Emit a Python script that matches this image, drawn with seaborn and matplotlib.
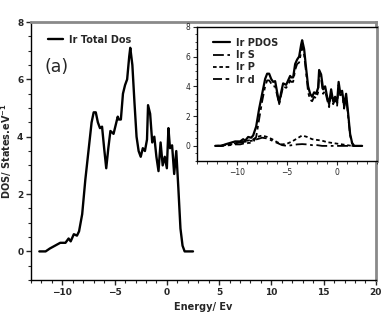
import numpy as np
import pandas as pd
import matplotlib
matplotlib.use("Agg")
import matplotlib.pyplot as plt
from matplotlib.ticker import MultipleLocator
from matplotlib.lines import Line2D
import seaborn as sns

# Ir total DOS
energy = [-12.2, -11.6, -11.2, -10.7, -10.2, -9.7, -9.4, -9.2, -8.9, -8.6,
          -8.4, -8.1, -7.8, -7.5, -7.2, -7.0, -6.8, -6.6, -6.4, -6.2,
          -6.0, -5.8, -5.6, -5.4, -5.1, -4.9, -4.7, -4.6, -4.4, -4.2,
          -4.0, -3.8, -3.6, -3.5, -3.3, -3.1, -2.9, -2.7, -2.5, -2.3,
          -2.1, -1.9, -1.8, -1.6, -1.4, -1.2, -1.0, -0.8, -0.6, -0.4,
          -0.2, 0.0, 0.15, 0.3, 0.5, 0.7, 0.9, 1.1, 1.3, 1.5,
          1.7, 2.0, 2.5]
total_dos = [0, 0, 0.1, 0.2, 0.3, 0.3, 0.45, 0.35, 0.6, 0.55,
             0.7, 1.3, 2.5, 3.5, 4.5, 4.85, 4.85, 4.5, 4.3, 4.35,
             3.6, 2.9, 3.6, 4.2, 4.1, 4.4, 4.7, 4.6, 4.6, 5.5,
             5.8, 6.0, 6.8, 7.1, 6.5, 5.2, 4.0, 3.5, 3.3, 3.6,
             3.5, 3.9, 5.1, 4.8, 3.8, 4.0, 3.3, 2.8, 3.8, 3.0,
             3.3, 2.9, 4.3, 3.6, 3.7, 2.7, 3.5, 2.2, 0.8, 0.2,
             0.0, 0.0, 0.0]

# inset: partial DOS
pdos = [0, 0, 0.1, 0.2, 0.3, 0.3, 0.45, 0.35, 0.6, 0.55,
        0.7, 1.3, 2.5, 3.5, 4.5, 4.85, 4.85, 4.5, 4.3, 4.35,
        3.6, 2.9, 3.6, 4.2, 4.1, 4.4, 4.7, 4.6, 4.6, 5.5,
        5.8, 6.0, 6.8, 7.1, 6.5, 5.2, 4.0, 3.5, 3.3, 3.6,
        3.5, 3.9, 5.1, 4.8, 3.8, 4.0, 3.3, 2.8, 3.8, 3.0,
        3.3, 2.9, 4.3, 3.6, 3.7, 2.7, 3.5, 2.2, 0.8, 0.2,
        0.0, 0.0, 0.0]
d_dos = [0, 0, 0.02, 0.05, 0.1, 0.1, 0.15, 0.1, 0.2, 0.2,
         0.25, 0.6, 1.8, 3.0, 4.0, 4.4, 4.4, 4.2, 4.0, 4.0,
         3.4, 2.8, 3.4, 4.0, 3.9, 4.1, 4.4, 4.3, 4.3, 5.1,
         5.5, 5.6, 6.3, 6.7, 6.1, 4.9, 3.6, 3.1, 3.0, 3.3,
         3.2, 3.6, 4.8, 4.5, 3.5, 3.7, 3.1, 2.6, 3.6, 2.8,
         3.1, 2.7, 4.1, 3.4, 3.5, 2.5, 3.3, 2.0, 0.7, 0.15,
         0.0, 0.0, 0.0]

energy_sp = [-12.2, -11.5, -11.0, -10.5, -10.0, -9.5, -9.0, -8.5, -8.0, -7.5,
             -7.0, -6.5, -6.0, -5.5, -5.0, -4.5, -4.0, -3.5, -3.0, -2.5,
             -2.0, -1.5, -1.0, -0.5, 0.0, 0.5, 1.0, 1.5, 2.0, 2.5]
s_dos = [0, 0.02, 0.08, 0.12, 0.2, 0.25, 0.3, 0.35, 0.45, 0.55,
         0.5, 0.35, 0.2, 0.05, 0.0, 0.05, 0.1, 0.12, 0.1, 0.05,
         0.05, 0, 0, 0, 0, 0, 0, 0, 0, 0]
p_dos = [0, 0.02, 0.1, 0.15, 0.2, 0.25, 0.35, 0.4, 0.6, 0.7,
         0.6, 0.45, 0.25, 0.1, 0.15, 0.3, 0.5, 0.7, 0.6, 0.45,
         0.4, 0.35, 0.25, 0.2, 0.15, 0.1, 0.05, 0, 0, 0]

sns.set_style("ticks")
plt.rcParams['font.family'] = ['DejaVu Sans']

fig = plt.figure(figsize=(3.92, 3.19), dpi=100)

# ---- main panel
ax = fig.add_axes([0.079, 0.122, 0.880, 0.809])
sns.lineplot(x=energy, y=total_dos, ax=ax, color='black', lw=1.7,
             sort=False, label='Ir Total Dos')
ax.set_xlim(-13, 20)
ax.set_ylim(-1, 8)
ax.xaxis.set_major_locator(MultipleLocator(5))
ax.xaxis.set_minor_locator(MultipleLocator(1))
ax.yaxis.set_major_locator(MultipleLocator(2))
ax.yaxis.set_minor_locator(MultipleLocator(0.5))
ax.tick_params(which='major', length=3.5, width=1, labelsize=6.5, pad=2)
ax.tick_params(which='minor', length=2, width=0.8)
for lab in ax.get_xticklabels() + ax.get_yticklabels():
    lab.set_fontweight('bold')
for side in ['left', 'bottom']:
    ax.spines[side].set_color('black')
    ax.spines[side].set_linewidth(1)
for side in ['top', 'right']:
    ax.spines[side].set_visible(True)
    ax.spines[side].set_color('#8a8a8a')
    ax.spines[side].set_linewidth(2)
ax.set_xlabel('Energy/ Ev', fontsize=7, fontweight='bold', labelpad=4)
ax.set_ylabel('DOS/ States.eV$^{\\mathbf{-1}}$', fontsize=7, fontweight='bold', labelpad=2)
ax.legend(loc='upper left', bbox_to_anchor=(0.025, 0.985), frameon=False,
          prop={'size': 7, 'weight': 'bold'}, handlelength=1.5, handletextpad=0.6)
ax.text(0.04, 0.825, '(a)', transform=ax.transAxes, fontsize=12.5, va='center', ha='left')

# ---- inset
ax_in = fig.add_axes([0.503, 0.496, 0.459, 0.42])
inset_lines = [
    (energy, pdos, 'Ir PDOS', '-', 1.6),
    (energy_sp, s_dos, 'Ir S', (0, (6, 2, 1.5, 2)), 1.3),
    (energy_sp, p_dos, 'Ir P', (0, (2, 1.5)), 1.3),
    (energy, d_dos, 'Ir d', (0, (5, 2, 2, 2)), 1.3),
]
handles = []
for xs, ys, name, ls, w in inset_lines:
    sns.lineplot(x=xs, y=ys, ax=ax_in, color='black', lw=w, linestyle=ls, sort=False)
    handles.append(Line2D([], [], color='black', lw=w, linestyle=ls, label=name))
ax_in.set_xlim(-14, 4)
ax_in.set_ylim(-1, 8)
ax_in.xaxis.set_major_locator(MultipleLocator(5))
ax_in.xaxis.set_minor_locator(MultipleLocator(1))
ax_in.yaxis.set_major_locator(MultipleLocator(2))
ax_in.yaxis.set_minor_locator(MultipleLocator(0.5))
ax_in.tick_params(which='major', length=3, width=0.8, labelsize=5.5, pad=2)
ax_in.tick_params(which='minor', length=1.8, width=0.6)
for side in ['left', 'bottom', 'top']:
    ax_in.spines[side].set_visible(True)
    ax_in.spines[side].set_color('black')
    ax_in.spines[side].set_linewidth(1)
ax_in.spines['right'].set_visible(True)
ax_in.spines['right'].set_color('#8a8a8a')
ax_in.spines['right'].set_linewidth(2)
ax_in.legend(handles=handles, loc='upper left', bbox_to_anchor=(0.04, 0.985),
             frameon=False, prop={'size': 7, 'weight': 'bold'},
             handlelength=1.75, handletextpad=0.6, labelspacing=0.25)

fig.savefig('out.png', dpi=100)
